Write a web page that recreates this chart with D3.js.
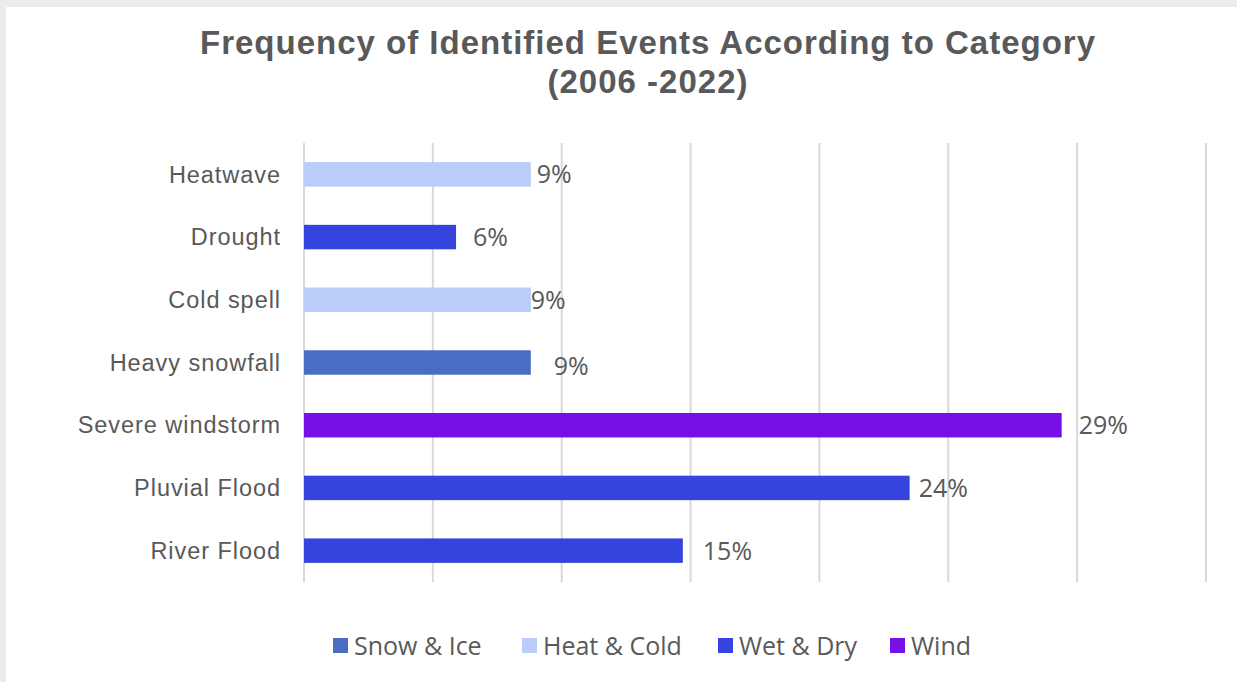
<!DOCTYPE html>
<html>
<head>
<meta charset="utf-8">
<script src="https://cdn.jsdelivr.net/npm/d3@7"></script>
<style>
  html, body { margin: 0; padding: 0; background: #fff; }
  svg { display: block; }
</style>
</head>
<body>
<svg id="chart" width="1237" height="682"></svg>
<script>
// ---- data ----
const categories = ["Heatwave", "Drought", "Cold spell", "Heavy snowfall", "Severe windstorm", "Pluvial Flood", "River Flood"];
const values = [8.8, 5.9, 8.8, 8.8, 29.4, 23.5, 14.7];           // percent of events
const valueLabels = ["9%", "6%", "9%", "9%", "29%", "24%", "15%"];
const groups = ["Heat & Cold", "Wet & Dry", "Heat & Cold", "Snow & Ice", "Wind", "Wet & Dry", "Wet & Dry"];
const legendGroups = ["Snow & Ice", "Heat & Cold", "Wet & Dry", "Wind"];
const xTicks = [0, 5, 10, 15, 20, 25, 30, 35];
const titleLines = ["Frequency of Identified Events According to Category", "(2006 -2022)"];

// ---- styling ----
const groupColors = { "Snow & Ice": "#4a6dc4", "Heat & Cold": "#b9cdf8", "Wet & Dry": "#3444dc", "Wind": "#7511e4" };
const labelNudgeX = [6, 17, 0, 23, 17, 9, 20];
const labelNudgeY = [0, 0, 0, 3, 0, 0, 0];

const svg = d3.select("#chart");
const W = 1237, H = 682;

// frame background
svg.append("rect").attr("x", 0).attr("y", 0).attr("width", W).attr("height", H).attr("fill", "#ebebeb");
svg.append("rect").attr("x", 6).attr("y", 7).attr("width", W - 6).attr("height", H - 7).attr("fill", "#ffffff");

const x = d3.scaleLinear().domain([0, 35]).range([304, 1206]);
const y = d3.scaleBand().domain(categories).range([143, 582]).paddingInner(0.61).paddingOuter(0.305);

// gridlines
svg.append("g").selectAll("line").data(xTicks).join("line")
  .attr("x1", d => x(d)).attr("x2", d => x(d))
  .attr("y1", 143).attr("y2", 582)
  .attr("stroke", "#d9d9d9").attr("stroke-width", 2);

// bars
svg.append("g").selectAll("rect").data(categories).join("rect")
  .attr("x", x(0))
  .attr("y", d => y(d))
  .attr("width", (d, i) => x(values[i]) - x(0))
  .attr("height", y.bandwidth())
  .attr("fill", (d, i) => groupColors[groups[i]]);

// category axis labels
const yAxis = d3.axisLeft(y).tickSize(0).tickPadding(0);
const gy = svg.append("g").attr("transform", "translate(281,0)").call(yAxis);
gy.select(".domain").remove();
gy.selectAll("text")
  .attr("fill", "#595959")
  .style("font-family", "'Liberation Sans', Arial, sans-serif")
  .style("font-size", "23.5px")
  .style("letter-spacing", "0.95px")
  .attr("dy", "0.35em");

// value labels
svg.append("g").selectAll("text").data(categories).join("text")
  .attr("x", (d, i) => x(values[i]) + labelNudgeX[i])
  .attr("y", (d, i) => y(d) + y.bandwidth() / 2 + labelNudgeY[i])
  .attr("dy", "0.36em")
  .attr("fill", "#595959")
  .style("font-family", "'Open Sans', sans-serif")
  .style("font-size", "25px")
  .text((d, i) => valueLabels[i]);

// title
svg.append("g").selectAll("text").data(titleLines).join("text")
  .attr("x", 648)
  .attr("y", (d, i) => 54 + i * 39)
  .attr("text-anchor", "middle")
  .attr("fill", "#595959")
  .style("font-family", "'Liberation Sans', Arial, sans-serif")
  .style("font-weight", "bold")
  .style("font-size", "33px")
  .style("letter-spacing", "1px")
  .text(d => d);

// legend
const legendX = [333, 522, 718, 890];
const lg = svg.append("g").selectAll("g").data(legendGroups).join("g")
  .attr("transform", (d, i) => `translate(${legendX[i]},646)`);
lg.append("rect").attr("x", 0).attr("y", -8).attr("width", 15).attr("height", 15)
  .attr("fill", d => groupColors[d]);
lg.append("text").attr("x", 21).attr("y", 0).attr("dy", "0.36em")
  .attr("fill", "#595959")
  .style("font-family", "'Open Sans', sans-serif")
  .style("font-size", "25px")
  .text(d => d);
</script>
</body>
</html>
